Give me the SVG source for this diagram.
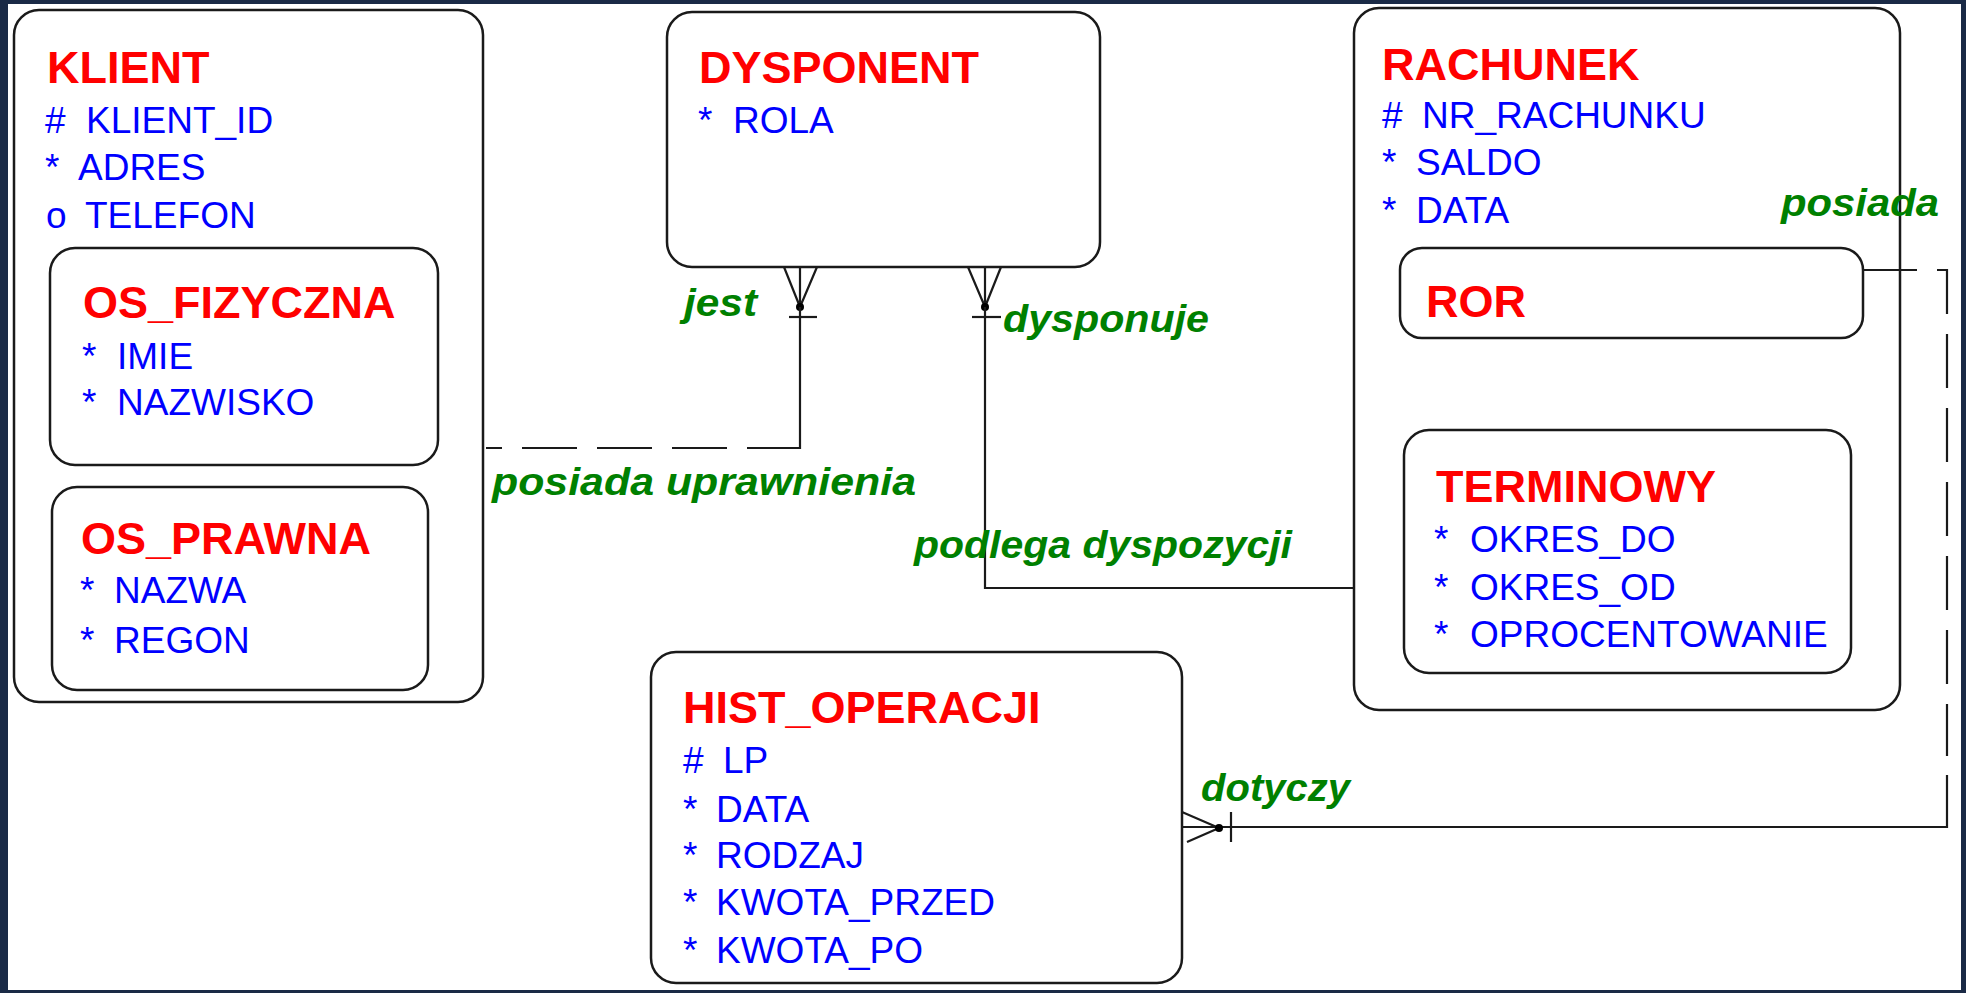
<svg xmlns="http://www.w3.org/2000/svg" width="1966" height="993" viewBox="0 0 1966 993">
<style>
.box{fill:#ffffff;stroke:#1a1a1a;stroke-width:2.5}
.title{font-family:"Liberation Sans",Arial,sans-serif;font-weight:bold;font-size:45px;fill:#ff0000}
.attr{font-family:"Liberation Sans",Arial,sans-serif;font-size:37px;fill:#0000ff}
.lbl{font-family:"Liberation Sans",Arial,sans-serif;font-weight:bold;font-style:italic;font-size:38px;fill:#008000}
.ln{fill:none;stroke:#1a1a1a;stroke-width:2.2}
.dash{fill:none;stroke:#1a1a1a;stroke-width:2.2;stroke-dasharray:54 20}
.dot{fill:#000000}
</style>
<rect x="0" y="0" width="1966" height="993" fill="#1a2a46"/>
<rect x="8" y="4" width="1953" height="986" fill="#ffffff"/>

<g id="KLIENT">
  <rect class="box" x="14" y="10" width="469" height="692" rx="25" ry="25"/>
  <text class="title" x="47" y="83">KLIENT</text>
  <text class="attr" x="45" y="133">#</text><text class="attr" x="86" y="133">KLIENT_ID</text>
  <text class="attr" x="45" y="180">*</text><text class="attr" x="78" y="180">ADRES</text>
  <text class="attr" x="46" y="228">o</text><text class="attr" x="85" y="228">TELEFON</text>
</g>
<g id="OS_FIZYCZNA">
  <rect class="box" x="50" y="248" width="388" height="217" rx="25" ry="25"/>
  <text class="title" x="83" y="318">OS_FIZYCZNA</text>
  <text class="attr" x="82" y="369">*</text><text class="attr" x="117" y="369">IMIE</text>
  <text class="attr" x="82" y="415">*</text><text class="attr" x="117" y="415">NAZWISKO</text>
</g>
<g id="OS_PRAWNA">
  <rect class="box" x="52" y="487" width="376" height="203" rx="25" ry="25"/>
  <text class="title" x="81" y="554">OS_PRAWNA</text>
  <text class="attr" x="80" y="603">*</text><text class="attr" x="114" y="603">NAZWA</text>
  <text class="attr" x="80" y="653">*</text><text class="attr" x="114" y="653">REGON</text>
</g>
<g id="DYSPONENT">
  <rect class="box" x="667" y="12" width="433" height="255" rx="25" ry="25"/>
  <text class="title" x="699" y="83">DYSPONENT</text>
  <text class="attr" x="698" y="133">*</text><text class="attr" x="733" y="133">ROLA</text>
</g>
<g id="RACHUNEK">
  <rect class="box" x="1354" y="8" width="546" height="702" rx="25" ry="25"/>
  <text class="title" x="1382" y="80">RACHUNEK</text>
  <text class="attr" x="1382" y="128">#</text><text class="attr" x="1422" y="128">NR_RACHUNKU</text>
  <text class="attr" x="1382" y="175">*</text><text class="attr" x="1416" y="175">SALDO</text>
  <text class="attr" x="1382" y="223">*</text><text class="attr" x="1416" y="223">DATA</text>
</g>
<g id="ROR">
  <rect class="box" x="1400" y="248" width="463" height="90" rx="22" ry="22"/>
  <text class="title" x="1426" y="317">ROR</text>
</g>
<g id="TERMINOWY">
  <rect class="box" x="1404" y="430" width="447" height="243" rx="25" ry="25"/>
  <text class="title" x="1436" y="502">TERMINOWY</text>
  <text class="attr" x="1434" y="552">*</text><text class="attr" x="1470" y="552">OKRES_DO</text>
  <text class="attr" x="1434" y="600">*</text><text class="attr" x="1470" y="600">OKRES_OD</text>
  <text class="attr" x="1434" y="647">*</text><text class="attr" x="1470" y="647">OPROCENTOWANIE</text>
</g>
<g id="HIST_OPERACJI">
  <rect class="box" x="651" y="652" width="531" height="331" rx="25" ry="25"/>
  <text class="title" x="683" y="723">HIST_OPERACJI</text>
  <text class="attr" x="683" y="773">#</text><text class="attr" x="723" y="773">LP</text>
  <text class="attr" x="683" y="822">*</text><text class="attr" x="716" y="822">DATA</text>
  <text class="attr" x="683" y="868">*</text><text class="attr" x="716" y="868">RODZAJ</text>
  <text class="attr" x="683" y="915">*</text><text class="attr" x="716" y="915">KWOTA_PRZED</text>
  <text class="attr" x="683" y="963">*</text><text class="attr" x="716" y="963">KWOTA_PO</text>
</g>

<g id="connectors">
  <!-- KLIENT - DYSPONENT -->
  <path class="ln" d="M784,267 L800,307 M800,267 L800,307 M817,267 L800,307"/>
  <circle class="dot" cx="800" cy="307" r="4"/>
  <path class="ln" d="M789,317 H817"/>
  <path class="ln" d="M800,307 V448 H747"/>
  <path class="ln" d="M727,448 H486" style="stroke-dasharray:55 20"/>
  <text class="lbl" x="684" y="316" textLength="73" lengthAdjust="spacingAndGlyphs">jest</text>
  <text class="lbl" x="492" y="495" textLength="424" lengthAdjust="spacingAndGlyphs">posiada uprawnienia</text>

  <!-- DYSPONENT - RACHUNEK -->
  <path class="ln" d="M968,267 L985,307 M985,267 L985,307 M1001,267 L985,307"/>
  <circle class="dot" cx="985" cy="307" r="4"/>
  <path class="ln" d="M972,317 H1001"/>
  <path class="ln" d="M985,307 V588 H1354"/>
  <text class="lbl" x="1003" y="332" textLength="206" lengthAdjust="spacingAndGlyphs">dysponuje</text>
  <text class="lbl" x="914" y="558" textLength="378" lengthAdjust="spacingAndGlyphs">podlega dyspozycji</text>

  <!-- ROR - HIST_OPERACJI -->
  <path class="dash" d="M1863,270 H1947 V756"/>
  <path class="ln" d="M1947,775 V827 H1182"/>
  <path class="ln" d="M1182,812 L1219,828 M1187,842 L1219,828"/>
  <circle class="dot" cx="1219" cy="828" r="4"/>
  <path class="ln" d="M1231,812 V842"/>
  <text class="lbl" x="1781" y="216" textLength="158" lengthAdjust="spacingAndGlyphs">posiada</text>
  <text class="lbl" x="1201" y="801" textLength="149" lengthAdjust="spacingAndGlyphs">dotyczy</text>
</g>
</svg>
